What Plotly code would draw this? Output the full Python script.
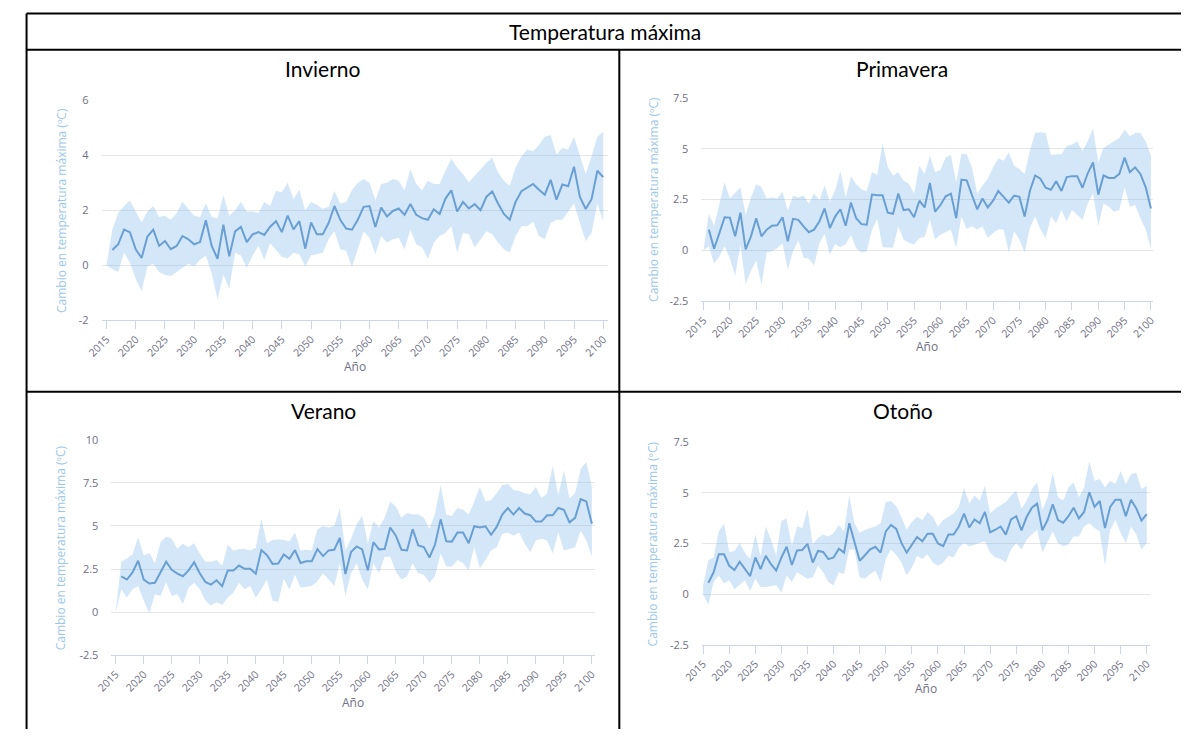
import plotly.graph_objects as go

W, H = 1185, 736

years = list(range(2015, 2101))

# ---------------- Invierno ----------------
inv_mean = [None,
    0.55, 0.76, 1.29, 1.20, 0.58, 0.26, 1.04, 1.29, 0.70, 0.88,
    0.58, 0.70, 1.06, 0.94, 0.76, 0.84, 1.63, 0.70, 0.23, 1.47,
    0.32, 1.23, 1.39, 0.84, 1.12, 1.20, 1.10, 1.40, 1.60, 1.20,
    1.80, 1.30, 1.60, 0.60, 1.55, 1.12, 1.12, 1.53, 2.15, 1.65,
    1.33, 1.29, 1.65, 2.12, 2.15, 1.39, 2.09, 1.77, 1.97, 2.06,
    1.83, 2.22, 1.83, 1.71, 1.65, 2.03, 1.86, 2.42, 2.72, 1.95,
    2.30, 2.06, 2.22, 2.00, 2.48, 2.68, 2.24, 1.86, 1.65, 2.30,
    2.69, 2.81, 2.95, 2.74, 2.56, 3.10, 2.38, 2.93, 2.87, 3.58,
    2.48, 2.04, 2.40, 3.43, 3.20]
inv_upper = [0.0, 1.3, 1.9, 2.15, 2.35, 1.95, 1.55, 1.95, 2.15, 1.75, 1.8,
    1.65, 1.9, 2.3, 2.05, 1.8, 1.75, 2.25, 1.75, 1.7, 2.55,
    1.8, 2.0, 2.3, 1.95, 1.95, 1.9, 2.3, 2.15, 2.7, 2.65,
    3.0, 2.4, 2.75, 2.0, 2.3, 2.2, 2.05, 2.12, 2.7, 2.24,
    2.3, 2.72, 3.0, 3.13, 3.0, 2.36, 2.95, 3.0, 3.13, 3.07,
    2.72, 3.49, 2.95, 2.72, 3.07, 2.95, 2.95, 3.43, 3.88, 3.55,
    3.31, 3.01, 3.25, 3.49, 3.72, 3.9, 3.37, 3.07, 2.89, 3.55,
    3.96, 4.2, 4.14, 4.38, 4.67, 4.73, 4.02, 4.26, 4.2, 4.67,
    3.96, 3.31, 3.96, 4.67, 4.85]
inv_lower = [0.0, -0.15, -0.25, 0.45, 0.1, -0.5, -0.95, -0.05, 0.05, -0.25, -0.35,
    -0.4, -0.25, -0.1, 0.05, -0.05, 0.2, 0.35, -0.3, -1.25, -0.35,
    -0.85, 0.45, 0.35, -0.1, 0.35, 0.7, 0.2, 0.8, 0.55, 0.3,
    0.25, 0.45, 0.4, -0.05, 0.35, 0.4, 0.45, 0.94, 1.23, 0.58,
    0.52, -0.07, 0.58, 1.23, 1.0, 0.4, 1.06, 0.82, 0.94, 1.0,
    0.58, 1.29, 0.76, 0.64, 0.23, 0.82, 1.06, 1.17, 1.41, 0.46,
    1.17, 1.12, 0.64, 0.94, 1.23, 1.12, 0.82, 0.58, 0.46, 1.06,
    1.41, 1.41, 1.59, 1.06, 0.94, 1.53, 1.65, 1.65, 1.95, 2.24,
    1.53, 0.88, 1.17, 2.24, 1.6]

# ---------------- Primavera ----------------
pri_mean = [None,
    1.02, 0.08, 0.85, 1.63, 1.61, 0.69, 1.85, 0.05, 0.69, 1.58,
    0.69, 1.02, 1.21, 1.23, 1.63, 0.45, 1.55, 1.50, 1.18, 0.89,
    1.02, 1.42, 2.06, 1.10, 1.66, 2.02, 1.21, 2.35, 1.58, 1.29,
    1.26, 2.74, 2.71, 2.71, 1.85, 1.80, 2.79, 1.98, 2.02, 1.63,
    2.44, 2.11, 3.31, 1.90, 2.23, 2.66, 2.79, 1.58, 3.48, 3.44,
    2.71, 2.02, 2.55, 2.11, 2.44, 2.92, 2.63, 2.35, 2.69, 2.63,
    1.66, 2.92, 3.68, 3.52, 3.08, 2.98, 3.40, 2.92, 3.60, 3.65,
    3.65, 3.08, 3.79, 4.32, 2.74, 3.68, 3.56, 3.56, 3.76, 4.56,
    3.84, 4.08, 3.76, 3.11, 2.06]
pri_upper = [0.05, 1.8, 1.2, 2.3, 3.35, 2.55, 2.8, 3.1, 1.75, 2.6, 3.25,
    3.1, 2.55, 2.6, 2.55, 2.9, 1.95, 2.7, 2.6, 2.7, 2.3,
    2.8, 2.45, 3.2, 2.4, 2.95, 3.9, 2.6, 3.65, 3.25, 3.0,
    2.9, 3.85, 3.7, 5.25, 4.1, 3.68, 3.84, 3.44, 3.27, 2.79,
    4.16, 3.76, 4.65, 3.84, 3.95, 4.56, 4.69, 3.35, 4.76, 4.73,
    4.08, 2.79, 3.19, 3.52, 4.08, 4.53, 4.4, 4.81, 4.16, 4.0,
    3.76, 4.89, 5.77, 5.81, 5.77, 4.69, 4.73, 4.73, 5.13, 5.21,
    5.37, 4.89, 5.37, 6.02, 4.32, 5.05, 5.21, 5.37, 5.53, 5.94,
    5.61, 5.77, 5.77, 5.37, 4.65]
pri_lower = [0.0, 0.2, -0.65, -0.3, 0.2, -0.4, -1.25, 0.25, -1.65, -1.0, -0.5,
    -1.7, -0.1, -0.05, 0.1, 0.35, -0.95, -0.05, 0.5, -0.35, -0.4,
    -0.75, 0.35, 0.8, -0.2, 0.3, 0.15, 0.3, 0.75, 0.1, -0.1,
    -0.05, 1.0, 1.55, 0.15, 0.15, 0.13, 1.18, 0.53, 0.37, 0.29,
    0.61, 0.66, 1.5, 0.53, 0.77, 0.89, 1.02, 0.13, 1.66, 1.05,
    1.18, 1.02, 1.18, 0.61, 0.85, 1.02, 1.02, -0.11, 0.94, 0.53,
    -0.11, 1.1, 1.66, 1.02, 0.61, 1.66, 1.34, 1.98, 1.42, 1.98,
    1.74, 1.5, 2.31, 2.79, 1.18, 2.31, 2.15, 1.9, 1.98, 3.11,
    2.15, 2.23, 1.58, 1.02, 0.05]

# ---------------- Verano ----------------
ver_mean = [None,
    2.08, 1.89, 2.30, 2.98, 1.89, 1.66, 1.70, 2.30, 2.92, 2.45,
    2.23, 2.08, 2.42, 2.89, 2.26, 1.75, 1.60, 1.85, 1.51, 2.42,
    2.42, 2.70, 2.51, 2.51, 2.23, 3.60, 3.30, 2.80, 2.82, 3.35,
    3.10, 3.60, 2.85, 2.95, 2.95, 3.65, 3.25, 3.58, 3.62, 4.30,
    2.21, 3.49, 3.81, 3.64, 2.42, 4.06, 3.64, 3.66, 4.91, 4.43,
    3.62, 3.58, 4.81, 3.87, 3.77, 3.17, 3.92, 5.38, 4.11, 4.09,
    4.62, 4.62, 4.00, 4.98, 4.91, 4.98, 4.49, 4.94, 5.66, 6.04,
    5.66, 6.04, 5.72, 5.62, 5.25, 5.25, 5.62, 5.62, 6.04, 5.94,
    5.21, 5.47, 6.55, 6.42, 5.13]
ver_upper = [0.1, 2.92, 3.11, 3.36, 4.34, 3.3, 3.43, 2.83, 4.06, 4.38, 4.25,
    3.68, 3.96, 3.77, 4.0, 3.4, 2.92, 2.92, 3.02, 2.68, 3.91,
    3.58, 3.64, 3.68, 3.58, 3.74, 5.4, 4.0, 4.19, 4.23, 4.19,
    4.11, 4.62, 3.58, 3.62, 3.58, 4.81, 5.0, 4.91, 5.0, 6.04,
    3.58, 4.25, 5.09, 5.57, 3.96, 5.28, 4.91, 5.47, 6.42, 6.13,
    5.47, 5.75, 5.66, 5.66, 5.47, 4.81, 5.75, 7.36, 5.66, 5.57,
    6.04, 5.94, 5.66, 6.42, 7.26, 6.42, 6.51, 6.89, 7.36, 7.45,
    7.08, 7.02, 6.89, 6.83, 7.26, 6.6, 6.89, 8.49, 6.79, 8.21,
    6.6, 6.89, 8.3, 8.72, 7.26]
ver_lower = [0.0, 1.32, 0.85, 1.32, 1.51, 0.66, -0.06, 1.04, 0.94, 1.74, 0.94,
    1.04, 0.47, 1.42, 1.7, 1.32, 0.66, 0.38, 0.57, 0.42, 0.85,
    1.13, 1.7, 1.32, 1.51, 0.85, 1.32, 1.89, 0.66, 0.6, 1.94,
    1.32, 2.17, 1.42, 1.47, 1.51, 1.79, 2.26, 1.89, 1.51, 2.83,
    0.94, 2.26, 2.83, 1.89, 1.32, 2.83, 2.26, 3.21, 3.21, 2.36,
    1.89, 2.08, 2.83, 2.26, 2.17, 1.7, 2.08, 3.4, 2.64, 2.64,
    3.02, 2.83, 2.45, 3.77, 2.55, 3.02, 3.58, 3.77, 4.53, 4.62,
    4.43, 4.62, 3.96, 3.49, 4.15, 4.25, 4.15, 3.4, 4.62, 3.58,
    3.68, 3.77, 4.72, 4.15, 3.21]

# ---------------- Otoño ----------------
oto_mean = [None,
    0.56, 1.08, 1.97, 1.97, 1.40, 1.19, 1.60, 1.27, 0.89, 1.81,
    1.24, 1.89, 1.48, 1.16, 1.81, 2.34, 1.44, 2.16, 2.18, 2.48,
    1.56, 2.13, 2.08, 1.73, 1.81, 2.24, 2.05, 3.50, 2.61, 1.65,
    1.92, 2.21, 2.34, 2.05, 3.10, 3.42, 3.22, 2.53, 2.05, 2.45,
    2.82, 2.61, 2.98, 2.98, 2.50, 2.37, 2.94, 2.94, 3.34, 3.98,
    3.29, 3.69, 3.50, 4.06, 3.05, 3.18, 3.34, 2.94, 3.69, 3.85,
    3.15, 3.82, 4.27, 4.47, 3.15, 3.66, 4.44, 3.66, 3.53, 3.85,
    4.27, 3.74, 4.06, 5.03, 4.31, 4.60, 3.26, 4.31, 4.66, 4.66,
    3.85, 4.66, 4.23, 3.63, 3.95]
oto_upper = [0.44, 1.69, 1.81, 3.1, 3.47, 2.08, 2.13, 2.53, 2.05, 1.73, 2.94,
    1.89, 3.34, 2.69, 1.89, 3.63, 3.74, 2.37, 3.34, 3.26, 4.18,
    2.45, 2.77, 2.94, 2.85, 3.02, 3.42, 3.1, 4.87, 3.5, 3.02,
    3.18, 3.26, 3.34, 3.5, 4.55, 4.6, 4.35, 3.8, 3.18, 3.58,
    3.82, 3.66, 4.06, 3.82, 3.34, 3.66, 3.82, 3.98, 4.31, 5.27,
    4.47, 4.87, 4.63, 5.35, 3.98, 4.23, 4.39, 4.55, 4.87, 5.11,
    4.23, 4.63, 5.19, 5.52, 4.15, 4.79, 6.0, 4.79, 4.63, 5.27,
    5.52, 4.79, 5.27, 6.56, 5.6, 5.68, 5.27, 5.6, 5.44, 6.08,
    5.44, 5.92, 6.0, 5.19, 5.35]
oto_lower = [0.0, -0.53, 0.6, 0.92, 0.52, 0.68, 0.24, 0.44, 0.68, 0.15, 0.76,
    0.35, 0.35, 0.4, 0.44, 0.08, 0.92, 0.6, 1.08, 0.92, 0.76,
    0.84, 1.4, 1.08, 0.6, 0.44, 1.08, 1.0, 2.21, 2.21, 0.84,
    0.76, 1.0, 1.16, 0.6, 1.73, 2.21, 1.93, 1.56, 0.92, 1.32,
    1.89, 1.73, 1.97, 1.56, 1.4, 1.56, 1.89, 1.81, 2.29, 2.53,
    2.37, 2.45, 2.53, 2.61, 2.05, 1.81, 1.73, 1.56, 2.21, 2.53,
    2.21, 2.69, 2.94, 3.18, 2.05, 2.61, 3.1, 2.53, 2.37, 2.45,
    2.85, 2.85, 3.34, 3.5, 3.26, 3.1, 1.4, 3.18, 3.66, 3.02,
    2.53, 3.34, 2.94, 2.21, 2.53]

x_ticks = list(range(2015, 2101, 5))
x_ticktext = [str(v) for v in x_ticks]

main_title = "Temperatura máxima"
y_title = "Cambio en temperatura máxima (ºC)"
x_title = "Año"

LINE = "#6a9fd4"
BAND = "rgba(124,181,236,0.33)"
GRID = "#e6e6e6"
AXIS = "#ccd6eb"
LABEL = "#6f6f85"
YTITLE = "#9cc8ea"
CHART_FONT = "Open Sans"
DOC_FONT = "Lato"

panels = [
    dict(name="Invierno", mean=inv_mean, hi=inv_upper, lo=inv_lower,
         px=(83.3, 600.3), py=(94.0, 318.7), xr=[2014.16, 2100.84],
         yr=[-2, 6], yt=[-2, 0, 2, 4, 6], ytt=["-2", "0", "2", "4", "6"],
         title=(309, 62), ytx=41.7, anoy=366),
    dict(name="Primavera", mean=pri_mean, hi=pri_upper, lo=pri_lower,
         px=(695.5, 1156.5), py=(91.7, 299.3), xr=[2014.59, 2100.41],
         yr=[-2.5, 7.5], yt=[-2.5, 0, 2.5, 5, 7.5], ytt=["-2.5", "0", "2.5", "5", "7.5"],
         title=(900, 62), ytx=646.5, anoy=346),
    dict(name="Verano", mean=ver_mean, hi=ver_upper, lo=ver_lower,
         px=(93.3, 586.7), py=(440.7, 660.7), xr=[2014.23, 2100.52],
         yr=[-2.5, 10], yt=[-2.5, 0, 2.5, 5, 7.5, 10], ytt=["-2.5", "0", "2.5", "5", "7.5", "10"],
         title=(310, 411), ytx=41.7, anoy=709),
    dict(name="Otoño", mean=oto_mean, hi=oto_upper, lo=oto_lower,
         px=(696.0, 1153.3), py=(443.3, 650.0), xr=[2014.76, 2100.62],
         yr=[-2.5, 7.5], yt=[-2.5, 0, 2.5, 5, 7.5], ytt=["-2.5", "0", "2.5", "5", "7.5"],
         title=(901, 411), ytx=646.0, anoy=695),
]


def fx(x):
    return x / W


def fy(y):
    return 1 - y / H


fig = go.Figure()
annotations = []
layout_axes = {}

for i, p in enumerate(panels, start=1):
    xa, ya = f"x{i}", f"y{i}"
    fig.add_trace(go.Scatter(x=years, y=p["lo"], mode="lines", line=dict(width=0, color=LINE),
                             hoverinfo="skip", showlegend=False, xaxis=xa, yaxis=ya))
    fig.add_trace(go.Scatter(x=years, y=p["hi"], mode="lines", line=dict(width=0, color=LINE),
                             fill="tonexty", fillcolor=BAND, hoverinfo="skip",
                             showlegend=False, xaxis=xa, yaxis=ya))
    fig.add_trace(go.Scatter(x=years, y=p["mean"], mode="lines", line=dict(width=2, color=LINE),
                             showlegend=False, xaxis=xa, yaxis=ya, name=p["name"]))

    layout_axes[f"xaxis{i}"] = dict(
        domain=[fx(p["px"][0]), fx(p["px"][1])], anchor=ya, range=p["xr"],
        tickmode="array", tickvals=x_ticks, ticktext=x_ticktext, tickangle=-45,
        showgrid=False, zeroline=False, showline=True, linecolor=AXIS, linewidth=1,
        ticks="outside", ticklen=8, tickwidth=1, tickcolor=AXIS,
        tickfont=dict(family=CHART_FONT, size=10.5, color=LABEL), fixedrange=True)
    layout_axes[f"yaxis{i}"] = dict(
        domain=[fy(p["py"][1]), fy(p["py"][0])], anchor=xa, range=p["yr"],
        tickmode="array", tickvals=p["yt"], ticktext=p["ytt"],
        showgrid=True, gridcolor=GRID, gridwidth=1, zeroline=False, showline=False,
        ticks="", ticklabelstandoff=12,
        tickfont=dict(family=CHART_FONT, size=11, color=LABEL), fixedrange=True)

    annotations.append(dict(text=p["name"], x=fx(p["title"][0]), y=fy(p["title"][1]),
                            xref="paper", yref="paper", xanchor="center", yanchor="middle",
                            showarrow=False, font=dict(family=DOC_FONT, size=21, color="#000000")))
    annotations.append(dict(text=y_title, x=fx(p["ytx"]), y=fy((p["py"][0] + p["py"][1]) / 2),
                            xref="paper", yref="paper", xanchor="center", yanchor="middle",
                            textangle=-90, showarrow=False,
                            font=dict(family=CHART_FONT, size=12, color=YTITLE)))
    annotations.append(dict(text=x_title, x=fx((p["px"][0] + p["px"][1]) / 2), y=fy(p["anoy"]),
                            xref="paper", yref="paper", xanchor="center", yanchor="middle",
                            showarrow=False, font=dict(family=CHART_FONT, size=12, color=LABEL)))

annotations.append(dict(text=main_title, x=fx(597), y=fy(24), xref="paper", yref="paper",
                        xanchor="center", yanchor="middle", showarrow=False,
                        font=dict(family=DOC_FONT, size=21, color="#000000")))

border = dict(color="#000000", width=2)
shapes = [
    dict(type="line", xref="paper", yref="paper", x0=fx(6.7), x1=1, y0=fy(5.7), y1=fy(5.7), line=border),
    dict(type="line", xref="paper", yref="paper", x0=fx(6.7), x1=1, y0=fy(42.7), y1=fy(42.7), line=border),
    dict(type="line", xref="paper", yref="paper", x0=fx(6.7), x1=1, y0=fy(391.7), y1=fy(391.7), line=border),
    dict(type="line", xref="paper", yref="paper", x0=fx(6.7), x1=fx(6.7), y0=fy(5.7), y1=0, line=border),
    dict(type="line", xref="paper", yref="paper", x0=fx(611.7), x1=fx(611.7), y0=fy(42.7), y1=0, line=border),
]

fig.update_layout(
    width=W, height=H, margin=dict(l=0, r=0, t=0, b=0),
    paper_bgcolor="#ffffff", plot_bgcolor="#ffffff",
    showlegend=False, annotations=annotations, shapes=shapes,
    font=dict(family=CHART_FONT),
    **layout_axes,
)

post = "document.documentElement.style.background='#ffffff';document.body.style.margin='0';"

fig.write_html("out.html", config={"displayModeBar": False}, post_script=post)
